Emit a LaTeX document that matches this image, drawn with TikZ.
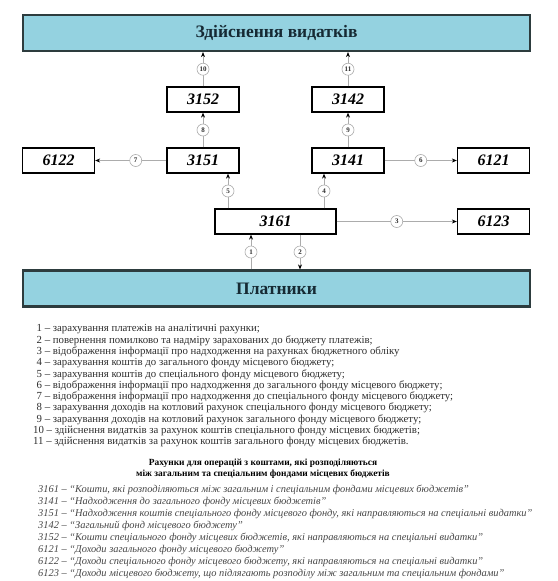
\documentclass[tikz,border=0pt]{standalone}
\usepackage{fontspec}
\setmainfont{Liberation Serif}
\usetikzlibrary{arrows.meta,positioning}
\definecolor{skyfill}{RGB}{148,210,224}
\definecolor{frame}{RGB}{45,60,62}
\definecolor{headtext}{RGB}{22,42,52}
\definecolor{wiregray}{RGB}{172,172,172}
\definecolor{notegray}{RGB}{45,45,45}
\definecolor{codegray}{RGB}{70,70,70}
\newcommand{\ind}{\hspace*{3.5pt}}
\tikzset{
  band/.style={draw=frame,line width=2.2pt,fill=skyfill,minimum width=507pt,minimum height=36pt,font=\fontsize{17.5}{20}\selectfont\bfseries,text=headtext},
  acct/.style={draw=black,line width=1.3pt,fill=white,minimum width=72pt,minimum height=25pt,inner sep=0pt,font=\fontsize{16}{18}\selectfont\bfseries\itshape},
  wideacct/.style={acct,minimum width=121pt},
  flow/.style={draw=wiregray,line width=0.7pt,-{Stealth[length=5pt,width=4pt,color=black]}},
  num/.style={circle,draw=wiregray,line width=0.6pt,fill=white,inner sep=0pt,minimum size=12pt,font=\fontsize{7}{7}\selectfont\bfseries,text=notegray},
  notes/.style={anchor=north west,align=left,inner sep=0pt,text=notegray,font=\fontsize{10.8}{11.3}\selectfont}
}

\begin{document}
\begin{tikzpicture}[x=1pt,y=-1pt]
  \useasboundingbox (0,0) rectangle (557,581);
  % bands
  \node[band] (spend) at (276.5,33) {Здійснення видатків};
  \node[band] (payers) at (276.5,288.5) {Платники};
  % accounts
  \node[acct] (a3152) at (203,99.5) {3152};
  \node[acct] (a3142) at (348,99.5) {3142};
  \node[acct] (a6122) at (58.5,160.5) {6122};
  \node[acct] (a3151) at (203,160.5) {3151};
  \node[acct] (a3141) at (348,160.5) {3141};
  \node[acct] (a6121) at (493.5,160.5) {6121};
  \node[wideacct] (a3161) at (275.5,221.5) {3161};
  \node[acct] (a6123) at (493.5,221.5) {6123};

  % flows
  \draw[flow] ([xshift=-24.5pt]a3161.south |- payers.north) -- ([xshift=-24.5pt]a3161.south) node[num,midway] {1};
  \draw[flow] ([xshift=24.5pt]a3161.south) -- ([xshift=24.5pt]a3161.south |- payers.north) node[num,midway] {2};
  \draw[flow] (a3161.east) -- (a6123.west) node[num,midway] {3};
  \draw[flow] ([xshift=48.5pt]a3161.north) -- ([xshift=48.5pt]a3161.north |- a3141.south) node[num,midway] {4};
  \draw[flow] ([xshift=-47.5pt]a3161.north) -- ([xshift=-47.5pt]a3161.north |- a3151.south) node[num,midway] {5};
  \draw[flow] (a3141.east) -- (a6121.west) node[num,midway] {6};
  \draw[flow] (a3151.west) -- (a6122.east) node[num,pos=0.43] {7};
  \draw[flow] (a3151.north) -- (a3152.south) node[num,midway] {8};
  \draw[flow] (a3141.north) -- (a3142.south) node[num,midway] {9};
  \draw[flow] (a3152.north) -- (a3152.north |- spend.south) node[num,midway] {10};
  \draw[flow] (a3142.north) -- (a3142.north |- spend.south) node[num,midway] {11};

  % legend
  \node[notes] (legend) at (33,324.5) {\ind1 – зарахування платежів на аналітичні рахунки;\\
\ind2 – повернення помилково та надміру зарахованих до бюджету платежів;\\
\ind3 – відображення інформації про надходження на рахунках бюджетного обліку\\
\ind4 – зарахування коштів до загального фонду місцевого бюджету;\\
\ind5 – зарахування коштів до спеціального фонду місцевого бюджету;\\
\ind6 – відображення інформації про надходження до загального фонду місцевого бюджету;\\
\ind7 – відображення інформації про надходження до спеціального фонду місцевого бюджету;\\
\ind8 – зарахування доходів на котловий рахунок спеціального фонду місцевого бюджету;\\
\ind9 – зарахування доходів на котловий рахунок загального фонду місцевого бюджету;\\
10 – здійснення видатків за рахунок коштів спеціального фонду місцевих бюджетів;\\
11 – здійснення видатків за рахунок коштів загального фонду місцевих бюджетів.};
  \node[notes,anchor=center,align=center,font=\fontsize{9.4}{11}\selectfont\bfseries,text=black] (codehead) at (263,468.5) {Рахунки для операцій з коштами, які розподіляються\\
між загальним та спеціальним фондами місцевих бюджетів};
  \node[notes,text=codegray,font=\fontsize{10.4}{12}\selectfont\itshape] (codes) at (38,485) {3161 – “Кошти, які розподіляються між загальним і спеціальним фондами місцевих бюджетів”\\
3141 – “Надходження до загального фонду місцевих бюджетів”\\
3151 – “Надходження коштів спеціального фонду місцевого фонду, які направляються на спеціальні видатки”\\
3142 – “Загальний фонд місцевого бюджету”\\
3152 – “Кошти спеціального фонду місцевих бюджетів, які направляються на спеціальні видатки”\\
6121 – “Доходи загального фонду місцевого бюджету”\\
6122 – “Доходи спеціального фонду місцевого бюджету, які направляються на спеціальні видатки”\\
6123 – “Доходи місцевого бюджету, що підлягають розподілу між загальним та спеціальним фондами”};
\end{tikzpicture}
\end{document}
